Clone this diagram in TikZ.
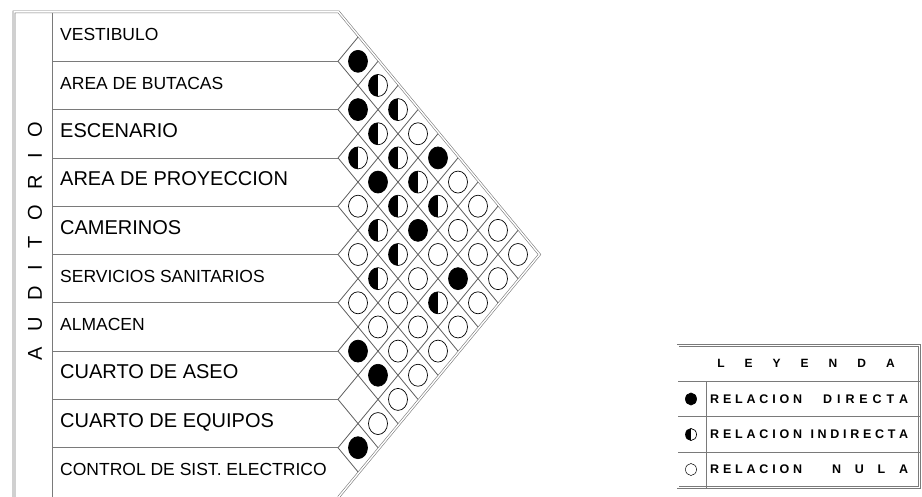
\documentclass[tikz,border=0pt]{standalone}
\usepackage{fontspec}
\setmainfont{Liberation Sans}
\usetikzlibrary{shapes.geometric}
\definecolor{frameline}{HTML}{7A7A7A}
\definecolor{gridline}{HTML}{5E5E5E}

\makeatletter
\newcommand\spreadword[2]{\def\sw@gap{\hspace{#1}}\@tfor\sw@c:=#2\do{\sw@c\sw@gap}\unskip}
\makeatother

\begin{document}
\begin{tikzpicture}[
  x=1pt, y=-1pt,
  frame/.style ={draw=frameline, line width=0.6pt, double=white, double distance=1.4pt},
  grid/.style  ={draw=gridline, line width=0.8pt},
  rowline/.style={draw=frameline, line width=0.8pt},
  lbl/.style   ={anchor=west, inner sep=0pt, text height=0.72em, text depth=0pt,
                 font=\fontsize{17.5}{20}\selectfont},
  lblbig/.style={lbl, font=\fontsize{20}{22}\selectfont},
  cell/.style  ={ellipse, draw=black, line width=0.7pt, inner sep=0pt,
                 minimum width=19pt, minimum height=22pt},
  dir/.style   ={cell, fill=black},
  ind/.style   ={cell, path picture={\fill[black] (path picture bounding box.south west)
                 rectangle (path picture bounding box.north);}},
  nul/.style   ={cell, fill=white},
  small/.style ={minimum width=11pt, minimum height=12pt},
  leg/.style   ={anchor=west, inner sep=0pt, font=\fontsize{12.5}{14}\selectfont\bfseries},
]
\useasboundingbox (0,0) rectangle (922,496);

% outer frame and label column
\draw[frame] (14,500) -- (14,11.8) -- (338.5,11.8) -- (539.5,254.5) -- (338.5,497.2);
\draw[rowline] (52,13) -- (52,500);
\foreach \k in {1,...,9}
  \draw[rowline] (52,{13+48.3*\k}) -- (338,{13+48.3*\k});

% diamond lattice
\foreach \k in {1,...,9} {
  \draw[grid] (338,{13+48.3*\k}) -- ({338+20*\k},{13+24.15*\k});
  \draw[grid] (338,{13+48.3*\k}) -- ({338+20*(10-\k)},{13+24.15*(10+\k)});
}

\node[rotate=90, inner sep=0pt, font=\fontsize{20}{22}\selectfont] (aud) at (35,241)
     {\spreadword{16pt}{AUDITORIO}};

\node[lbl]    (vest) at (60,37.2)  {VESTIBULO};
\node[lbl]    (buta) at (60,85.5)  {AREA DE BUTACAS};
\node[lblbig] (esce) at (60,133.8) {ESCENARIO};
\node[lblbig] (proy) at (60,182.1) {AREA DE PROYECCION};
\node[lblbig] (came) at (60,230.4) {CAMERINOS};
\node[lbl]    (sani) at (60,278.7) {SERVICIOS SANITARIOS};
\node[lbl]    (alma) at (60,327.0) {ALMACEN};
\node[lblbig] (aseo) at (60,375.3) {CUARTO DE ASEO};
\node[lblbig] (equi) at (60,423.6) {CUARTO DE EQUIPOS};
\node[lbl]    (ctrl) at (60,471.9) {CONTROL DE SIST. ELECTRICO};

% relations, row i with row j
\foreach \i/\j/\t in {1/2/dir, 1/3/ind, 1/4/ind, 1/5/nul, 1/6/dir, 1/7/nul, 1/8/nul, 1/9/nul, 1/10/nul,
                      2/3/dir, 2/4/ind, 2/5/ind, 2/6/ind, 2/7/ind, 2/8/nul, 2/9/nul, 2/10/nul,
                      3/4/ind, 3/5/dir, 3/6/ind, 3/7/dir, 3/8/nul, 3/9/dir, 3/10/nul,
                      4/5/nul, 4/6/ind, 4/7/ind, 4/8/nul, 4/9/ind, 4/10/nul,
                      5/6/nul, 5/7/ind, 5/8/nul, 5/9/nul, 5/10/nul,
                      6/7/nul, 6/8/nul, 6/9/nul, 6/10/nul,
                      7/8/dir, 7/9/dir, 7/10/nul,
                      8/10/nul,
                      9/10/dir}
  \node[\t] (c\i-\j) at ({338+20*(\j-\i)},{13+24.15*(\i+\j-1)}) {};

% legend
\draw[frame] (678,345.5) rectangle (919.5,487.5);
\draw[rowline] (678,381) -- (919.5,381);
\draw[rowline] (678,416.5) -- (919.5,416.5);
\draw[rowline] (678,452) -- (919.5,452);
\draw[rowline] (706,381) -- (706,487.5);

\node[inner sep=0pt, font=\fontsize{12}{14}\selectfont\bfseries] (leyenda) at (806,363)
     {\spreadword{20pt}{LEYENDA}};
\node[dir, small] (kdir) at (691,399)   {};
\node[ind, small] (kind) at (691,434.5) {};
\node[nul, small, line width=0.5pt] (knul) at (691,469.5) {};
\node[leg] (tdir) at (710,399)
     {\makebox[198pt][s]{\spreadword{3.8pt}{RELACION}\hfill\spreadword{4.9pt}{DIRECTA}}};
\node[leg] (tind) at (710,434.5)
     {\makebox[198pt][s]{\spreadword{3.8pt}{RELACION}\hfill\spreadword{3.7pt}{INDIRECTA}}};
\node[leg] (tnul) at (710,469.5)
     {\makebox[198pt][s]{\spreadword{3.8pt}{RELACION}\hfill\spreadword{13.8pt}{NULA}}};

\end{tikzpicture}
\end{document}
